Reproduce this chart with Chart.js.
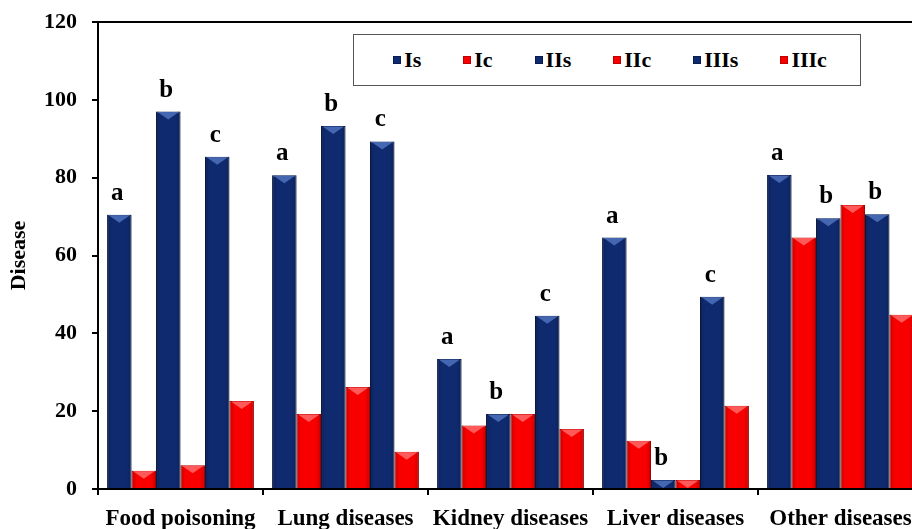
<!DOCTYPE html>
<html><head><meta charset="utf-8">
<script src="https://cdn.jsdelivr.net/npm/chart.js@4.4.1/dist/chart.umd.min.js"></script>
<style>
html,body{margin:0;padding:0;background:#fff;overflow:hidden;width:912px;height:529px;}
#wrap{position:relative;width:924px;height:529px;}
#c{position:absolute;left:0;top:0;}
#legend{position:absolute;left:353px;top:34px;width:508px;height:52px;border:1.5px solid #555;box-sizing:border-box;display:flex;justify-content:center;align-items:center;gap:42px;padding-left:6px;font:bold 22px 'Liberation Serif','Times New Roman',serif;color:#000;background:#fff;}
.it{display:flex;align-items:center;}
.sw{width:8px;height:8px;margin-right:3px;box-sizing:border-box;}
</style>
</head><body>
<div id="wrap">
<canvas id="c" width="924" height="529"></canvas>
<div id="legend"></div>
</div>
<script>
const categories = ['Food poisoning','Lung diseases','Kidney diseases','Liver diseases','Other diseases'];
const seriesNames = ['Is','Ic','IIs','IIc','IIIs','IIIc'];
const Is   = [70.5, 80.6, 33.4, 64.6, 80.7];
const Ic   = [4.7, 19.3, 16.3, 12.4, 64.6];
const IIs  = [97.0, 93.3, 19.3, 2.3, 69.6];
const IIc  = [6.1, 26.2, 19.3, 2.3, 73.0];
const IIIs = [85.4, 89.3, 44.5, 49.4, 70.6];
const IIIc = [22.6, 9.6, 15.4, 21.4, 44.8];
const letters = {
  Is:   ['a','a','a','a','a'],
  IIs:  ['b','b','b','b','b'],
  IIIs: ['c','c','c','c','b']
};
const yTicks = [0,20,40,60,80,100,120];

const NAVY = '#0f2a6e', NAVY_EDGE = '#0a1c4e', NAVY_HI = '#4566b0';
const RED = '#f80000', RED_EDGE = '#c00000', RED_HI = '#ff5a5a';
const seriesData = [Is, Ic, IIs, IIc, IIIs, IIIc];
const FONT = "'Liberation Serif','Times New Roman',serif";

const datasets = seriesNames.map((n, i) => ({
  label: n,
  data: seriesData[i],
  backgroundColor: i % 2 === 0 ? NAVY : RED,
  borderColor: i % 2 === 0 ? NAVY_EDGE : RED_EDGE,
  borderWidth: 1,
  barPercentage: 1.0,
  categoryPercentage: 0.89
}));

const bevel = {
  id: 'bevel',
  afterDatasetsDraw(chart) {
    const ctx = chart.ctx;
    chart.data.datasets.forEach((ds, i) => {
      const meta = chart.getDatasetMeta(i);
      const blue = i % 2 === 0;
      meta.data.forEach(bar => {
        const p = bar.getProps(['x','y','base','width'], true);
        const l = p.x - p.width/2, r = p.x + p.width/2;
        const hgt = p.base - p.y;
        ctx.save();
        const g = ctx.createLinearGradient(l, 0, r, 0);
        g.addColorStop(0, 'rgba(0,0,0,0.2)');
        g.addColorStop(0.2, 'rgba(0,0,0,0)');
        g.addColorStop(0.8, 'rgba(0,0,0,0)');
        g.addColorStop(1, 'rgba(0,0,0,0.2)');
        ctx.fillStyle = g;
        ctx.fillRect(l, p.y, p.width, hgt);
        const h = Math.min(8, hgt);
        ctx.beginPath();
        ctx.moveTo(l + 1.5, p.y + 0.5);
        ctx.lineTo(r - 1.5, p.y + 0.5);
        ctx.lineTo(p.x, p.y + h);
        ctx.closePath();
        ctx.fillStyle = blue ? NAVY_HI : RED_HI;
        ctx.fill();
        ctx.restore();
      });
    });
  }
};

const sigLetters = {
  id: 'sigLetters',
  afterDatasetsDraw(chart) {
    const ctx = chart.ctx;
    ctx.save();
    ctx.font = 'bold 25px ' + FONT;
    ctx.fillStyle = '#000';
    ctx.textAlign = 'center';
    ctx.textBaseline = 'alphabetic';
    chart.data.datasets.forEach((ds, i) => {
      const L = letters[ds.label];
      if (!L) return;
      const meta = chart.getDatasetMeta(i);
      meta.data.forEach((bar, j) => {
        const p = bar.getProps(['x','y'], true);
        ctx.fillText(L[j], p.x - 2, p.y - 15);
      });
    });
    ctx.restore();
  }
};

const topFrame = {
  id: 'topFrame',
  afterDraw(chart) {
    const {ctx, chartArea} = chart;
    ctx.save();
    ctx.strokeStyle = '#000';
    ctx.lineWidth = 2;
    ctx.beginPath();
    ctx.moveTo(chartArea.left - 1, chartArea.top);
    ctx.lineTo(chartArea.right, chartArea.top);
    ctx.stroke();
    ctx.restore();
  }
};

const chart = new Chart(document.getElementById('c'), {
  type: 'bar',
  data: { labels: categories, datasets },
  options: {
    responsive: false,
    animation: false,
    layout: { padding: { top: 22, right: 1, left: 0, bottom: 0 } },
    plugins: { legend: { display: false }, tooltip: { enabled: false } },
    scales: {
      x: {
        grid: { display: true, drawOnChartArea: false, drawTicks: true, tickLength: 6, color: '#000', lineWidth: 2, offset: true },
        border: { display: true, color: '#000', width: 2 },
        ticks: { color: '#000', font: { family: FONT, size: 23, weight: 'bold' }, padding: 10, autoSkip: false, maxRotation: 0 },
        afterFit(s) { s.height = 40; s.paddingLeft = 0; s.paddingRight = 0; }
      },
      y: {
        min: 0, max: 120,
        afterBuildTicks(s) { s.ticks = yTicks.map(v => ({ value: v })); },
        grid: { display: true, drawOnChartArea: false, drawTicks: true, tickLength: 6, color: '#000', lineWidth: 2 },
        border: { display: true, color: '#000', width: 2 },
        ticks: { color: '#000', font: { family: FONT, size: 22, weight: 'bold' }, padding: 15 },
        title: { display: true, text: 'Disease', color: '#000', font: { family: FONT, size: 22, weight: 'bold' }, padding: { top: 6 } },
        afterFit(s) { s.width = 98; s.paddingTop = 0; s.paddingBottom = 0; }
      }
    }
  },
  plugins: [bevel, sigLetters, topFrame]
});

// HTML legend built from the chart datasets
const leg = document.getElementById('legend');
chart.data.datasets.forEach(ds => {
  const it = document.createElement('div'); it.className = 'it';
  const sw = document.createElement('span'); sw.className = 'sw';
  sw.style.background = ds.backgroundColor;
  sw.style.border = '1px solid ' + ds.borderColor;
  const t = document.createElement('span'); t.textContent = ds.label;
  it.appendChild(sw); it.appendChild(t); leg.appendChild(it);
});
</script>
</body></html>
